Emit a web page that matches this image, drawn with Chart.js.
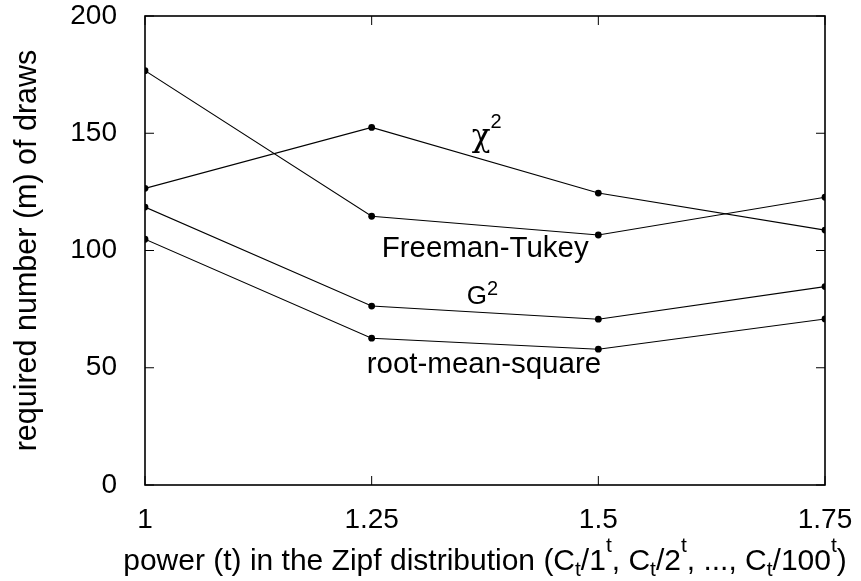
<!DOCTYPE html>
<html>
<head>
<meta charset="utf-8">
<script src="https://cdn.jsdelivr.net/npm/chart.js@4.4.0/dist/chart.umd.min.js"></script>
<style>
  html, body { margin: 0; padding: 0; background: #fff; }
</style>
</head>
<body>
<canvas id="chart" width="861" height="581"></canvas>
<script>
// data
const powers = [1, 1.25, 1.5, 1.75];
const xTickLabels = ['1', '1.25', '1.5', '1.75'];
const yTickValues = [0, 50, 100, 150, 200];
const chiSquare = [126.5, 152.5, 124.5, 108.7];
const freemanTukey = [176.7, 114.6, 106.6, 122.7];
const gSquare = [118.5, 76.3, 70.7, 84.6];
const rootMeanSquare = [104.8, 62.6, 57.9, 70.8];

const SANS = '"Liberation Sans", Arial, sans-serif';
const SERIF = '"DejaVu Serif", "Liberation Serif", serif';

function points(values) {
    return powers.map((p, i) => ({ x: p, y: values[i] }));
}

function lineSet(label, values) {
    return {
        label: label,
        data: points(values),
        borderColor: '#000',
        backgroundColor: '#000',
        borderWidth: 1.1,
        pointRadius: 3.4,
        pointHoverRadius: 3.4,
        pointBorderWidth: 0,
        tension: 0
    };
}

// text with sub/superscripts: parts = [text, size, dy, family]
function drawParts(ctx, parts, x, y, align) {
    let total = 0;
    parts.forEach(p => {
        ctx.font = p[1] + 'px ' + (p[3] || SANS);
        total += ctx.measureText(p[0]).width;
    });
    let cx = align === 'center' ? x - total / 2 : x;
    ctx.textAlign = 'left';
    ctx.textBaseline = 'alphabetic';
    parts.forEach(p => {
        ctx.font = p[1] + 'px ' + (p[3] || SANS);
        ctx.fillText(p[0], cx, y + p[2]);
        cx += ctx.measureText(p[0]).width;
    });
}

// keep the plot box where the reference has it
function noOverflow(scale) {
    scale.paddingTop = 0;
    scale.paddingBottom = 0;
    scale.paddingLeft = 0;
    scale.paddingRight = 0;
}

const framePlugin = {
    id: 'frame',
    afterDatasetsDraw(chart) {
        const ctx = chart.ctx;
        const area = chart.chartArea;
        const xs = chart.scales.x;
        const ys = chart.scales.y;
        const tick = 9;
        ctx.save();
        ctx.strokeStyle = '#000';
        ctx.lineWidth = 1.6;
        ctx.strokeRect(area.left, area.top, area.right - area.left, area.bottom - area.top);
        ctx.lineWidth = 1;
        ctx.beginPath();
        xs.ticks.forEach(t => {
            const px = xs.getPixelForValue(t.value);
            ctx.moveTo(px, area.bottom); ctx.lineTo(px, area.bottom - tick);
            ctx.moveTo(px, area.top); ctx.lineTo(px, area.top + tick);
        });
        ys.ticks.forEach(t => {
            const py = ys.getPixelForValue(t.value);
            ctx.moveTo(area.left, py); ctx.lineTo(area.left + tick, py);
            ctx.moveTo(area.right, py); ctx.lineTo(area.right - tick, py);
        });
        ctx.stroke();

        // curve labels, placed in data coordinates
        ctx.fillStyle = '#000';
        const at = (vx, vy) => [xs.getPixelForValue(vx), ys.getPixelForValue(vy)];
        let p = at(1.3603, 144.6);
        drawParts(ctx, [['χ', 31, 0, SERIF], ['2', 20, -18]], p[0], p[1], 'left');
        p = at(1.261, 97.1);
        drawParts(ctx, [['Freeman-Tukey', 29.5, 0]], p[0], p[1], 'left');
        p = at(1.3548, 77.2);
        drawParts(ctx, [['G', 26, 0], ['2', 20, -9]], p[0], p[1], 'left');
        p = at(1.2445, 47.6);
        drawParts(ctx, [['root-mean-square', 29.5, 0]], p[0], p[1], 'left');

        // x axis title with sub/superscripts
        const big = 30, small = 21, sub = 6, sup = -18;
        const title = [
            ['power (t) in the Zipf distribution (C', big, 0],
            ['t', small, sub], ['/1', big, 0], ['t', small, sup],
            [', C', big, 0],
            ['t', small, sub], ['/2', big, 0], ['t', small, sup],
            [', ..., C', big, 0],
            ['t', small, sub], ['/100', big, 0], ['t', small, sup],
            [')', big, 0]
        ];
        drawParts(ctx, title, (area.left + area.right) / 2, 570, 'center');
        ctx.restore();
    }
};

new Chart(document.getElementById('chart'), {
    type: 'line',
    data: {
        datasets: [
            lineSet('χ²', chiSquare),
            lineSet('Freeman-Tukey', freemanTukey),
            lineSet('G²', gSquare),
            lineSet('root-mean-square', rootMeanSquare)
        ]
    },
    options: {
        responsive: false,
        devicePixelRatio: 1,
        animation: false,
        layout: { padding: { left: 0, right: 36, top: 16, bottom: 0 } },
        plugins: {
            legend: { display: false },
            tooltip: { enabled: false }
        },
        scales: {
            x: {
                type: 'linear',
                min: 1,
                max: 1.75,
                afterBuildTicks: scale => {
                    scale.ticks = powers.map(v => ({ value: v }));
                },
                afterFit: scale => { scale.height = 96; noOverflow(scale); },
                grid: { display: false },
                border: { display: false },
                ticks: {
                    color: '#000',
                    padding: 10,
                    font: { family: SANS, size: 28 },
                    callback: (v) => xTickLabels[powers.indexOf(v)]
                }
            },
            y: {
                min: 0,
                max: 200,
                afterBuildTicks: scale => {
                    scale.ticks = yTickValues.map(v => ({ value: v }));
                },
                afterFit: scale => { scale.width = 145; noOverflow(scale); },
                grid: { display: false },
                border: { display: false },
                ticks: {
                    color: '#000',
                    padding: 20,
                    font: { family: SANS, size: 28 }
                },
                title: {
                    display: true,
                    text: 'required number (m) of draws',
                    color: '#000',
                    font: { family: SANS, size: 30.5 },
                    padding: { top: 9, bottom: 0 }
                }
            }
        }
    },
    plugins: [framePlugin]
});
</script>
</body>
</html>
